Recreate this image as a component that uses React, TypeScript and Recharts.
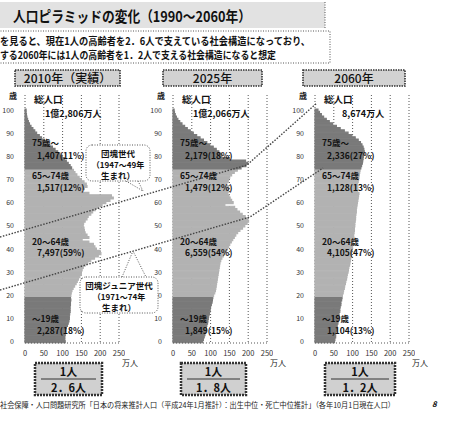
import React from 'react';
import { BarChart, Bar, Cell, XAxis, YAxis, CartesianGrid } from 'recharts';

// ages 0..100 (category axis, 0 at the bottom)
const AGES = [
  0, 1, 2, 3, 4, 5, 6, 7, 8, 9, 10, 11, 12, 13, 14, 15, 16, 17, 18, 19,
  20, 21, 22, 23, 24, 25, 26, 27, 28, 29, 30, 31, 32, 33, 34, 35, 36, 37, 38, 39,
  40, 41, 42, 43, 44, 45, 46, 47, 48, 49, 50, 51, 52, 53, 54, 55, 56, 57, 58, 59,
  60, 61, 62, 63, 64, 65, 66, 67, 68, 69, 70, 71, 72, 73, 74, 75, 76, 77, 78, 79,
  80, 81, 82, 83, 84, 85, 86, 87, 88, 89, 90, 91, 92, 93, 94, 95, 96, 97, 98, 99, 100,
];

// population by age, 万人
const POP_2010 = [
  107, 106, 106, 107, 106, 108, 110, 113, 115, 117,
  118, 118, 119, 120, 120, 120, 121, 121, 122, 121,
  122, 123, 125, 128, 132, 136, 139, 142, 146, 150,
  150, 152, 155, 160, 167, 175, 185, 195, 202, 200,
  190, 186, 182, 170, 152, 170, 165, 160, 158, 157,
  155, 156, 160, 165, 168, 175, 180, 187, 195, 205,
  215, 226, 235, 230, 170, 150, 158, 165, 163, 157,
  150, 144, 138, 133, 129, 124, 120, 115, 110, 105,
  99, 93, 87, 80, 73, 66, 58, 51, 44, 38,
  31, 26, 21, 16, 12, 9, 7, 5, 4, 3, 3,
];

const POP_2025 = [
  79, 81, 83, 85, 86, 88, 89, 90, 92, 93,
  94, 95, 97, 98, 99, 100, 102, 104, 105, 106,
  108, 111, 113, 114, 115, 116, 117, 118, 119, 120,
  121, 122, 123, 124, 125, 127, 130, 134, 138, 142,
  145, 148, 151, 155, 159, 163, 167, 172, 178, 185,
  191, 197, 201, 199, 192, 184, 177, 170, 164, 138,
  160, 156, 152, 149, 146, 147, 148, 148, 143, 147,
  148, 151, 156, 163, 171, 181, 194, 199, 193, 150,
  130, 128, 122, 115, 107, 98, 90, 81, 72, 63,
  54, 46, 38, 31, 24, 18, 13, 9, 6, 4, 3,
];

const POP_2060 = [
  52, 53, 55, 55, 56, 58, 58, 59, 61, 61,
  62, 64, 64, 66, 66, 67, 69, 69, 71, 72,
  73, 75, 76, 78, 79, 81, 82, 84, 85, 86,
  88, 89, 90, 92, 93, 94, 95, 96, 97, 98,
  99, 100, 100, 101, 102, 103, 103, 104, 105, 105,
  106, 106, 107, 108, 108, 109, 110, 110, 111, 112,
  113, 114, 115, 116, 117, 113, 114, 114, 113, 115,
  116, 117, 118, 119, 120, 122, 124, 126, 127, 128,
  129, 130, 131, 130, 128, 125, 121, 115, 107, 98,
  88, 78, 67, 57, 47, 38, 30, 23, 17, 12, 8,
];

const X_TICKS = [0, 50, 100, 150, 200, 250];
const YEARS = ['2010年（実績）', '2025年', '2060年'];
const TOTALS = ['1億2,806万人', '1億2,066万人', '8,674万人'];
const GROUP_NAMES = ['75歳～', '65～74歳', '20～64歳', '～19歳'];
const GROUP_VALUES = [
  ['1,407(11%)', '1,517(12%)', '7,497(59%)', '2,287(18%)'],
  ['2,179(18%)', '1,479(12%)', '6,559(54%)', '1,849(15%)'],
  ['2,336(27%)', '1,128(13%)', '4,105(47%)', '1,104(13%)'],
];
const SUPPORTERS = ['2．6人', '1．8人', '1．2人'];

const FONT = '"Noto Sans CJK JP", "Noto Sans", sans-serif';
const DARK = '#7a7a7a';
const LIGHT = '#b2b2b2';

const PANEL_X0 = [25, 173, 315]; // pixel x of value 0 in each panel

const shade = (age: number) => (age >= 75 || age <= 19 ? DARK : LIGHT);

const Pyramid = ({ left, values }: { left: number; values: number[] }) => {
  const data = AGES.map((age, i) => ({ age, pop: values[i] }));
  return (
    <div style={{ position: 'absolute', left, top: 90 }}>
      <BarChart
        width={125}
        height={275}
        data={data}
        layout="vertical"
        margin={{ top: 5, right: 6, bottom: 0, left: 0 }}
        barCategoryGap={0}
        barGap={0}
      >
        <CartesianGrid horizontal={false} stroke="#555" strokeDasharray="1 2" />
        <XAxis
          type="number"
          domain={[0, 250]}
          ticks={X_TICKS}
          interval={0}
          height={22}
          axisLine={{ stroke: '#555', strokeDasharray: '1 2' }}
          tickLine={false}
          tick={{ fontSize: 7.5, fill: '#333', fontFamily: FONT }}
        />
        <YAxis
          type="category"
          dataKey="age"
          reversed
          width={25}
          interval={9}
          padding={{ top: 14, bottom: 0 }}
          axisLine={false}
          tickLine={false}
          tickMargin={5}
          tick={{ fontSize: 7, fill: '#333', fontFamily: FONT }}
        />
        <Bar dataKey="pop" isAnimationActive={false}>
          {data.map((d) => (
            <Cell key={d.age} fill={shade(d.age)} stroke={shade(d.age)} strokeWidth={1.1} />
          ))}
        </Bar>
      </BarChart>
    </div>
  );
};

const bold = { fontFamily: FONT, fontWeight: 700, fill: '#111' } as const;

export default function App() {
  const groupY = [
    [143, 156],
    [176, 188],
    [242, 253],
    [319, 331],
  ];
  const yearBoxes = [
    { x: 15, w: 105 },
    { x: 163, w: 99 },
    { x: 303, w: 102 },
  ];
  const ratioBoxes = [
    { x: 35, w: 67 },
    { x: 181, w: 65 },
    { x: 325, w: 70 },
  ];
  return (
    <div style={{ position: 'absolute', left: 0, top: 0, width: 451, height: 421, background: '#fff', overflow: 'hidden' }}>
      {PANEL_X0.map((x0, i) => (
        <Pyramid key={i} left={x0 - 25} values={[POP_2010, POP_2025, POP_2060][i]} />
      ))}
      <svg width={451} height={421} style={{ position: 'absolute', left: 0, top: 0, pointerEvents: 'none' }}>
        {/* title */}
        <rect x={0} y={2} width={325} height={26} fill="#e2e2e2" />
        <line x1={325} y1={2} x2={325} y2={28} stroke="#555" strokeDasharray="1 1.5" />
        <text x={13} y={22} fontSize={14.5} {...bold} textLength={238} lengthAdjust="spacingAndGlyphs">
          人口ピラミッドの変化（1990～2060年）
        </text>
        <rect x={-2} y={31} width={332} height={32} fill="#fff" stroke="#555" strokeDasharray="1 1.5" />
        <text x={0} y={45} fontSize={10.5} {...bold} textLength={310} lengthAdjust="spacingAndGlyphs">
          を見ると、現在1人の高齢者を2．6人で支えている社会構造になっており、
        </text>
        <text x={0} y={59} fontSize={10.5} {...bold} textLength={276} lengthAdjust="spacingAndGlyphs">
          する2060年には1人の高齢者を1．2人で支える社会構造になると想定
        </text>

        {/* year headers */}
        {yearBoxes.map((b, i) => (
          <g key={i}>
            <rect x={b.x} y={70} width={b.w} height={16} fill="#d2d2d2" stroke="#333" strokeWidth={1.6} strokeDasharray="1.5 1" />
            <text x={b.x + b.w / 2} y={82.5} fontSize={12} textAnchor="middle" fontFamily={FONT} fontWeight={500} fill="#111">
              {YEARS[i]}
            </text>
          </g>
        ))}

        {/* axis unit labels */}
        {PANEL_X0.map((x0, i) => (
          <g key={i}>
            <text x={x0 - 16} y={99} fontSize={8} {...bold}>歳</text>
            <text x={x0 + 97} y={366} fontSize={8} fontFamily={FONT} fill="#222">万人</text>
          </g>
        ))}

        {/* connector lines for the baby-boom generations */}
        <polyline points="0,237 247,165 317,103" fill="none" stroke="#444" strokeWidth={1.4} strokeDasharray="1.5 1.5" />
        <polyline points="0,290 250,217 323,168" fill="none" stroke="#444" strokeWidth={1.4} strokeDasharray="1.5 1.5" />

        {/* totals and group labels */}
        {PANEL_X0.map((x0, i) => (
          <g key={i}>
            <text x={x0 + 9} y={103} fontSize={9.5} {...bold}>総人口</text>
            <text x={x0 + (i === 2 ? 27 : 20)} y={117} fontSize={9} {...bold}>{TOTALS[i]}</text>
            {GROUP_NAMES.map((g, j) => (
              <g key={j}>
                <text x={x0 + 7} y={groupY[j][0] + 3} fontSize={8.5} {...bold}>{g}</text>
                <text x={x0 + 12} y={groupY[j][1] + 3} fontSize={8.5} {...bold}>{GROUP_VALUES[i][j]}</text>
              </g>
            ))}
          </g>
        ))}

        {/* callouts */}
        <g>
          <path d="M126,181 L143,191 L138,181" fill="#fff" stroke="#555" strokeDasharray="1 1.5" />
          <rect x={86} y={145} width={64} height={36} rx={6} fill="#fff" stroke="#555" strokeDasharray="1 1.5" />
          <text x={118} y={157} fontSize={8.5} textAnchor="middle" {...bold}>団塊世代</text>
          <text x={118} y={168} fontSize={8} textAnchor="middle" {...bold}>（1947～49年</text>
          <text x={118} y={179} fontSize={8.5} textAnchor="middle" {...bold}>生まれ）</text>
        </g>
        <g>
          <path d="M122,277 L133,251 L146,277" fill="#fff" stroke="#555" strokeDasharray="1 1.5" />
          <rect x={80} y={277} width={78} height={36} rx={6} fill="#fff" stroke="#555" strokeDasharray="1 1.5" />
          <text x={119} y={289} fontSize={8.5} textAnchor="middle" {...bold}>団塊ジュニア世代</text>
          <text x={119} y={300} fontSize={8} textAnchor="middle" {...bold}>（1971～74年</text>
          <text x={119} y={311} fontSize={8.5} textAnchor="middle" {...bold}>生まれ）</text>
        </g>

        {/* supporters per elderly person */}
        {ratioBoxes.map((b, i) => (
          <g key={i}>
            <rect x={b.x} y={363} width={b.w} height={32} fill="#d0d0d0" stroke="#333" strokeWidth={2.5} strokeDasharray="2 1" />
            <line x1={b.x + 6} y1={379} x2={b.x + b.w - 6} y2={379} stroke="#333" strokeWidth={1} />
            <text x={b.x + b.w / 2} y={376} fontSize={11} textAnchor="middle" {...bold}>1人</text>
            <text x={b.x + b.w / 2} y={392} fontSize={11} textAnchor="middle" {...bold}>{SUPPORTERS[i]}</text>
          </g>
        ))}

        {/* source */}
        <text x={0} y={408} fontSize={7.5} fontFamily={FONT} fill="#222" textLength={395} lengthAdjust="spacingAndGlyphs">
          社会保障・人口問題研究所「日本の将来推計人口（平成24年1月推計）：出生中位・死亡中位推計」（各年10月1日現在人口）
        </text>
        <text x={432} y={407} fontSize={8} fontStyle="italic" {...bold}>8</text>
      </svg>
    </div>
  );
}
